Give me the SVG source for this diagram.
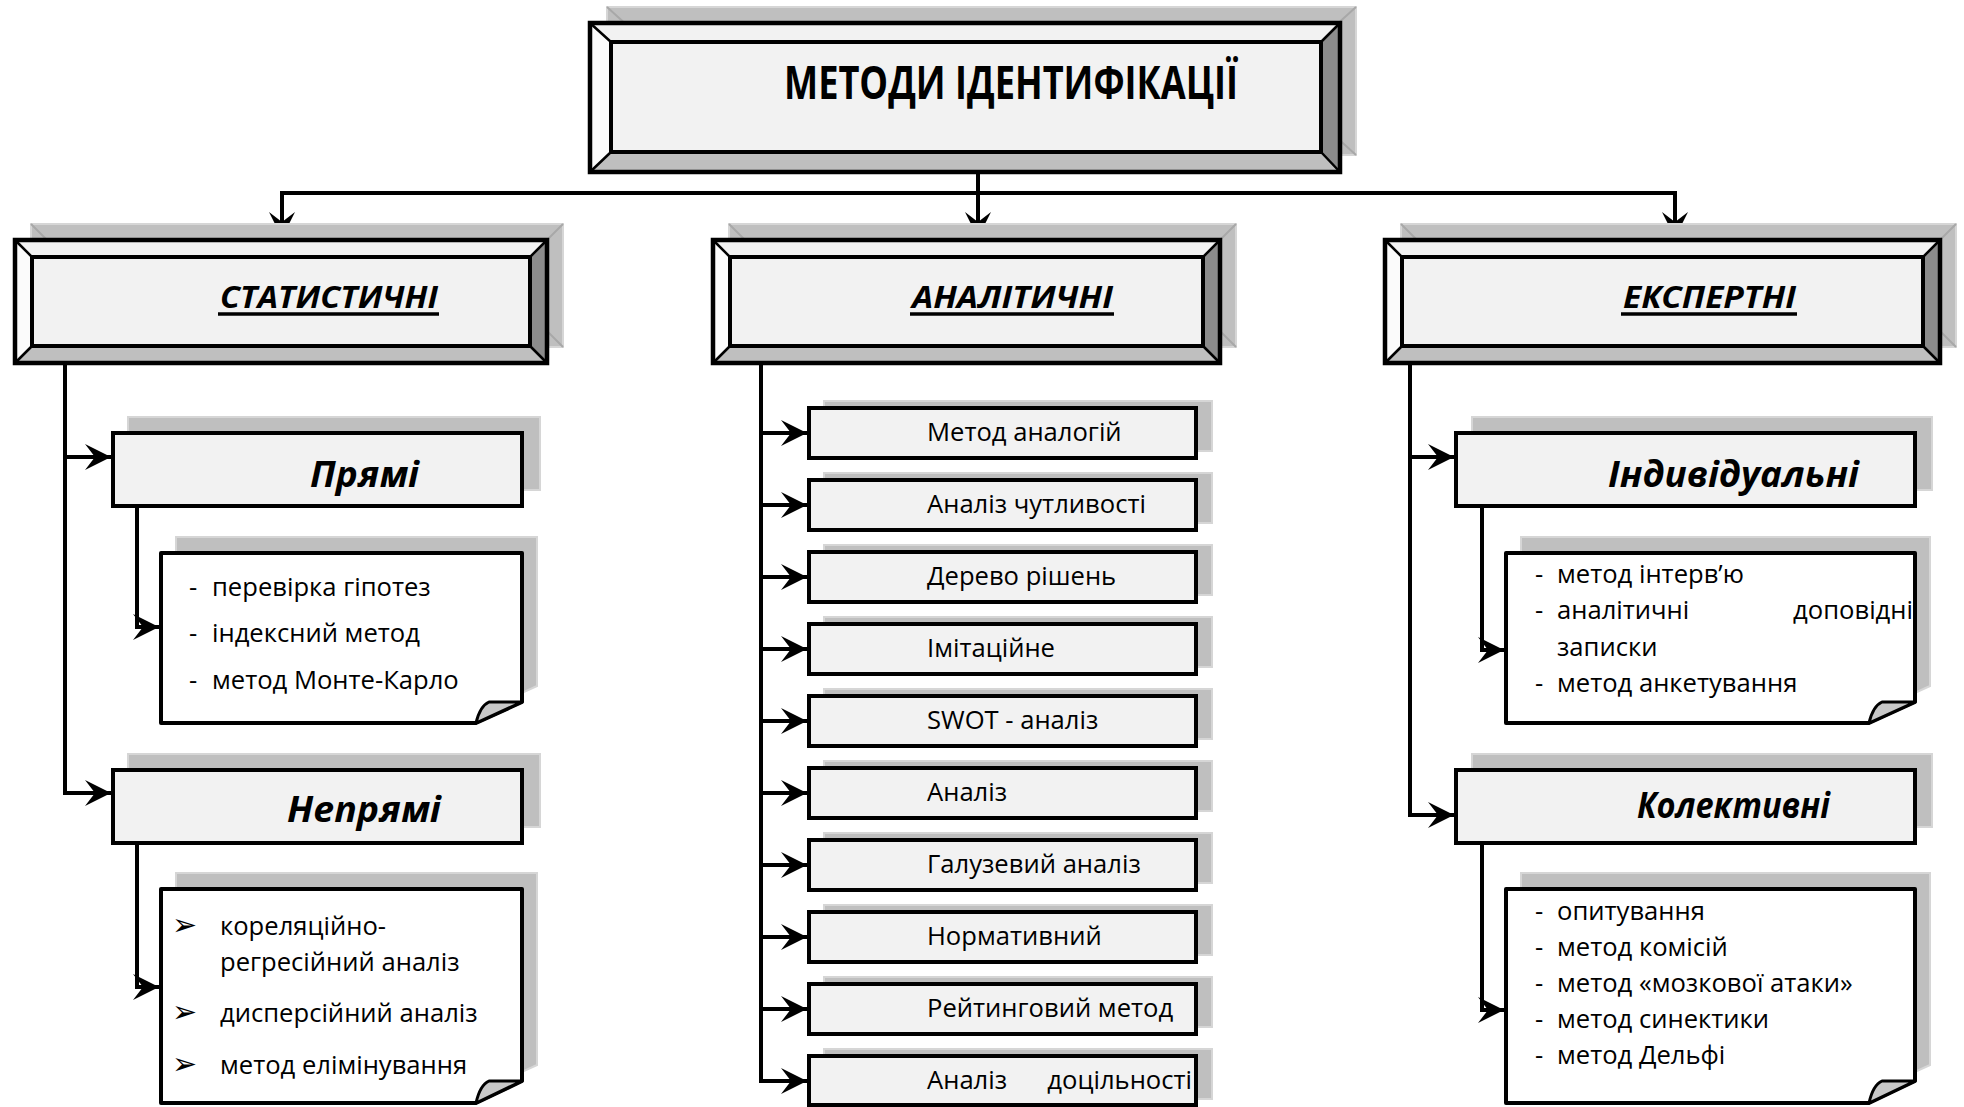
<svg xmlns="http://www.w3.org/2000/svg" width="1964" height="1107" viewBox="0 0 1964 1107">
<style>
.sh{fill:#bfbfbf;stroke:#d6d6d6;stroke-width:2}
.shd{stroke:#a8a8a8;stroke-width:2;fill:none}
.bt{fill:#f2f2f2}
.bl{fill:#fbfbfb}
.br{fill:#8c8c8c}
.bb{fill:#bfbfbf}
.face{fill:#f2f2f2;stroke:#000;stroke-width:4}
.outer{fill:none;stroke:#000;stroke-width:4.5}
.diag{stroke:#000;stroke-width:2.5}
.box{fill:#f2f2f2;stroke:#000;stroke-width:4}
.note{fill:#fff;stroke:#000;stroke-width:4;stroke-linejoin:round}
.curl{fill:#c8c8c8;stroke:#000;stroke-width:3;stroke-linejoin:round}
.con{fill:none;stroke:#000;stroke-width:4}
.arr{fill:none;stroke:#000;stroke-width:4;marker-end:url(#ah)}
.title{font-family:"Open Sans","Liberation Sans",sans-serif;font-weight:bold;font-size:46px;fill:#000}
.h2{font-family:"Open Sans","Liberation Sans",sans-serif;font-weight:bold;font-style:italic;font-size:31px;fill:#000}
.h3{font-family:"Open Sans","Liberation Sans",sans-serif;font-weight:bold;font-style:italic;font-size:35px;fill:#000}
.ul{stroke:#000;stroke-width:3.5}
.t{font-family:"Open Sans","Liberation Sans",sans-serif;font-size:25.6px;fill:#000}
.bul{font-family:"DejaVu Sans",sans-serif;font-size:30px;fill:#000}
</style>
<defs>
<marker id="ah" markerUnits="userSpaceOnUse" markerWidth="32" markerHeight="32" viewBox="-28 -16 32 32" refX="0" refY="0" orient="auto">
<path d="M0,0 L-26,-13 L-16,0 L-26,13 Z" fill="#000"/>
</marker>
</defs>

<!-- connectors -->
<g id="connectors">
<path class="arr" d="M978,172 V238"/>
<path class="con" d="M280,193 H1677"/>
<path class="arr" d="M282,193 V238"/>
<path class="arr" d="M1675,193 V238"/>
<path class="arr" d="M65,363 V793 H111"/>
<path class="arr" d="M65,457 H111"/>
<path class="arr" d="M137,506 V627 H159"/>
<path class="arr" d="M137,843 V987 H159"/>
<path class="arr" d="M761,363 V1081 H807"/>
<path class="arr" d="M761,433 H807"/>
<path class="arr" d="M761,505 H807"/>
<path class="arr" d="M761,577 H807"/>
<path class="arr" d="M761,649 H807"/>
<path class="arr" d="M761,721 H807"/>
<path class="arr" d="M761,793 H807"/>
<path class="arr" d="M761,865 H807"/>
<path class="arr" d="M761,937 H807"/>
<path class="arr" d="M761,1009 H807"/>
<path class="arr" d="M1410,363 V815 H1454"/>
<path class="arr" d="M1410,457 H1454"/>
<path class="arr" d="M1482,506 V650 H1504"/>
<path class="arr" d="M1482,843 V1010 H1504"/>
</g>

<!-- top node -->
<g id="node-root">
<rect class="sh" x="607" y="7" width="749" height="148"/>
<path class="shd" d="M607,7 l22,20 M1356,7 l-22,20 M1356,155 l-22,-20"/>
<polygon class="bt" points="590,23 1340,23 1321,42 611,42"/>
<polygon class="bl" points="590,23 611,42 611,152 590,172"/>
<polygon class="br" points="1340,23 1340,172 1321,152 1321,42"/>
<polygon class="bb" points="590,172 611,152 1321,152 1340,172"/>
<rect class="face" x="611" y="42" width="710" height="110"/>
<path class="diag" d="M590,23 L611,42 M1340,23 L1321,42 M590,172 L611,152 M1340,172 L1321,152"/>
<rect class="outer" x="590" y="23" width="750" height="149"/>
<text class="title" x="784" y="99" textLength="454" lengthAdjust="spacingAndGlyphs">МЕТОДИ ІДЕНТИФІКАЦІЇ</text>
</g>

<!-- level 2 -->
<g id="node-stat">
<rect class="sh" x="31" y="224" width="532" height="123"/>
<path class="shd" d="M31,224 l17,17 M563,224 l-17,17 M563,347 l-17,-17"/>
<polygon class="bt" points="15,240 547,240 530,257 32,257"/>
<polygon class="bl" points="15,240 32,257 32,346 15,363"/>
<polygon class="br" points="547,240 547,363 530,346 530,257"/>
<polygon class="bb" points="15,363 32,346 530,346 547,363"/>
<rect class="face" x="32" y="257" width="498" height="89"/>
<path class="diag" d="M15,240 L32,257 M547,240 L530,257 M15,363 L32,346 M547,363 L530,346"/>
<rect class="outer" x="15" y="240" width="532" height="123"/>
<text class="h2" x="220" y="308" textLength="218" lengthAdjust="spacingAndGlyphs">СТАТИСТИЧНІ</text>
<line class="ul" x1="218" y1="314" x2="439" y2="314"/>
</g>

<g id="node-anal">
<rect class="sh" x="729" y="224" width="507" height="123"/>
<path class="shd" d="M729,224 l17,17 M1236,224 l-17,17 M1236,347 l-17,-17"/>
<polygon class="bt" points="713,240 1220,240 1203,257 730,257"/>
<polygon class="bl" points="713,240 730,257 730,346 713,363"/>
<polygon class="br" points="1220,240 1220,363 1203,346 1203,257"/>
<polygon class="bb" points="713,363 730,346 1203,346 1220,363"/>
<rect class="face" x="730" y="257" width="473" height="89"/>
<path class="diag" d="M713,240 L730,257 M1220,240 L1203,257 M713,363 L730,346 M1220,363 L1203,346"/>
<rect class="outer" x="713" y="240" width="507" height="123"/>
<text class="h2" x="912" y="308" textLength="201" lengthAdjust="spacingAndGlyphs">АНАЛІТИЧНІ</text>
<line class="ul" x1="910" y1="314" x2="1114" y2="314"/>
</g>

<g id="node-exp">
<rect class="sh" x="1401" y="224" width="555" height="123"/>
<path class="shd" d="M1401,224 l17,17 M1956,224 l-17,17 M1956,347 l-17,-17"/>
<polygon class="bt" points="1385,240 1940,240 1923,257 1402,257"/>
<polygon class="bl" points="1385,240 1402,257 1402,346 1385,363"/>
<polygon class="br" points="1940,240 1940,363 1923,346 1923,257"/>
<polygon class="bb" points="1385,363 1402,346 1923,346 1940,363"/>
<rect class="face" x="1402" y="257" width="521" height="89"/>
<path class="diag" d="M1385,240 L1402,257 M1940,240 L1923,257 M1385,363 L1402,346 M1940,363 L1923,346"/>
<rect class="outer" x="1385" y="240" width="555" height="123"/>
<text class="h2" x="1623" y="308" textLength="173" lengthAdjust="spacingAndGlyphs">ЕКСПЕРТНІ</text>
<line class="ul" x1="1621" y1="314" x2="1797" y2="314"/>
</g>

<!-- level 3 left -->
<g id="node-pryami">
<rect class="sh" x="128" y="417" width="412" height="73"/>
<rect class="box" x="113" y="433" width="409" height="73"/>
<text class="h3" x="310" y="487" textLength="109" lengthAdjust="spacingAndGlyphs">Прямі</text>
</g>
<g id="node-pryami-list">
<path class="sh" d="M176,537 H537 V686 L491,707 H176 Z"/>
<path class="note" d="M161,553 H522 V702 L476,723 H161 Z"/>
<path class="curl" d="M476,723 Q480,706 489,702 L522,702 Z"/>
<text class="t"><tspan x="189" y="596">-</tspan><tspan x="212" y="596">перевірка гіпотез</tspan></text>
<text class="t"><tspan x="189" y="642">-</tspan><tspan x="212" y="642">індексний метод</tspan></text>
<text class="t"><tspan x="189" y="689">-</tspan><tspan x="212" y="689">метод Монте-Карло</tspan></text>
</g>

<g id="node-nepryami">
<rect class="sh" x="128" y="754" width="412" height="73"/>
<rect class="box" x="113" y="770" width="409" height="73"/>
<text class="h3" x="287" y="822" textLength="154" lengthAdjust="spacingAndGlyphs">Непрямі</text>
</g>
<g id="node-nepryami-list">
<path class="sh" d="M176,873 H537 V1065 L491,1086 H176 Z"/>
<path class="note" d="M161,889 H522 V1081 L476,1103 H161 Z"/>
<path class="curl" d="M476,1103 Q480,1085 489,1081 L522,1081 Z"/>
<text class="bul" x="172" y="935">➢</text>
<text class="t" x="220" y="935">кореляційно-</text>
<text class="t" x="220" y="971">регресійний аналіз</text>
<text class="bul" x="172" y="1022">➢</text>
<text class="t" x="220" y="1022">дисперсійний аналіз</text>
<text class="bul" x="172" y="1074">➢</text>
<text class="t" x="220" y="1074">метод елімінування</text>
</g>

<!-- middle column -->
<g id="node-m1"><rect class="sh" x="824" y="401" width="388" height="50"/><rect class="box" x="809" y="408" width="387" height="50"/><text class="t" x="927" y="441">Метод аналогій</text></g>
<g id="node-m2"><rect class="sh" x="824" y="473" width="388" height="50"/><rect class="box" x="809" y="480" width="387" height="50"/><text class="t" x="927" y="513">Аналіз чутливості</text></g>
<g id="node-m3"><rect class="sh" x="824" y="545" width="388" height="50"/><rect class="box" x="809" y="552" width="387" height="50"/><text class="t" x="927" y="585">Дерево рішень</text></g>
<g id="node-m4"><rect class="sh" x="824" y="617" width="388" height="50"/><rect class="box" x="809" y="624" width="387" height="50"/><text class="t" x="927" y="657">Імітаційне</text></g>
<g id="node-m5"><rect class="sh" x="824" y="689" width="388" height="50"/><rect class="box" x="809" y="696" width="387" height="50"/><text class="t" x="927" y="729">SWOT - аналіз</text></g>
<g id="node-m6"><rect class="sh" x="824" y="761" width="388" height="50"/><rect class="box" x="809" y="768" width="387" height="50"/><text class="t" x="927" y="801">Аналіз</text></g>
<g id="node-m7"><rect class="sh" x="824" y="833" width="388" height="50"/><rect class="box" x="809" y="840" width="387" height="50"/><text class="t" x="927" y="873">Галузевий аналіз</text></g>
<g id="node-m8"><rect class="sh" x="824" y="905" width="388" height="50"/><rect class="box" x="809" y="912" width="387" height="50"/><text class="t" x="927" y="945">Нормативний</text></g>
<g id="node-m9"><rect class="sh" x="824" y="977" width="388" height="50"/><rect class="box" x="809" y="984" width="387" height="50"/><text class="t" x="927" y="1017">Рейтинговий метод</text></g>
<g id="node-m10"><rect class="sh" x="824" y="1049" width="388" height="50"/><rect class="box" x="809" y="1056" width="387" height="49"/><text class="t"><tspan x="927" y="1089">Аналіз</tspan><tspan x="1192" y="1089" text-anchor="end">доцільності</tspan></text></g>

<!-- right column -->
<g id="node-indiv">
<rect class="sh" x="1472" y="417" width="460" height="73"/>
<rect class="box" x="1456" y="433" width="459" height="73"/>
<text class="h3" x="1608" y="487" textLength="251" lengthAdjust="spacingAndGlyphs">Індивідуальні</text>
</g>
<g id="node-indiv-list">
<path class="sh" d="M1521,537 H1930 V686 L1884,707 H1521 Z"/>
<path class="note" d="M1506,553 H1915 V702 L1869,723 H1506 Z"/>
<path class="curl" d="M1869,723 Q1873,706 1882,702 L1915,702 Z"/>
<text class="t"><tspan x="1535" y="583">-</tspan><tspan x="1557" y="583">метод інтерв’ю</tspan></text>
<text class="t"><tspan x="1535" y="619">-</tspan><tspan x="1557" y="619">аналітичні</tspan><tspan x="1913" y="619" text-anchor="end">доповідні</tspan></text>
<text class="t" x="1557" y="656">записки</text>
<text class="t"><tspan x="1535" y="692">-</tspan><tspan x="1557" y="692">метод анкетування</tspan></text>
</g>

<g id="node-kolekt">
<rect class="sh" x="1472" y="754" width="460" height="73"/>
<rect class="box" x="1456" y="770" width="459" height="73"/>
<text class="h3" x="1637" y="818" textLength="193" lengthAdjust="spacingAndGlyphs">Колективні</text>
</g>
<g id="node-kolekt-list">
<path class="sh" d="M1521,873 H1930 V1065 L1884,1086 H1521 Z"/>
<path class="note" d="M1506,889 H1915 V1081 L1869,1103 H1506 Z"/>
<path class="curl" d="M1869,1103 Q1873,1085 1882,1081 L1915,1081 Z"/>
<text class="t"><tspan x="1535" y="920">-</tspan><tspan x="1557" y="920">опитування</tspan></text>
<text class="t"><tspan x="1535" y="956">-</tspan><tspan x="1557" y="956">метод комісій</tspan></text>
<text class="t"><tspan x="1535" y="992">-</tspan><tspan x="1557" y="992">метод «мозкової атаки»</tspan></text>
<text class="t"><tspan x="1535" y="1028">-</tspan><tspan x="1557" y="1028">метод синектики</tspan></text>
<text class="t"><tspan x="1535" y="1064">-</tspan><tspan x="1557" y="1064">метод Дельфі</tspan></text>
</g>
</svg>
